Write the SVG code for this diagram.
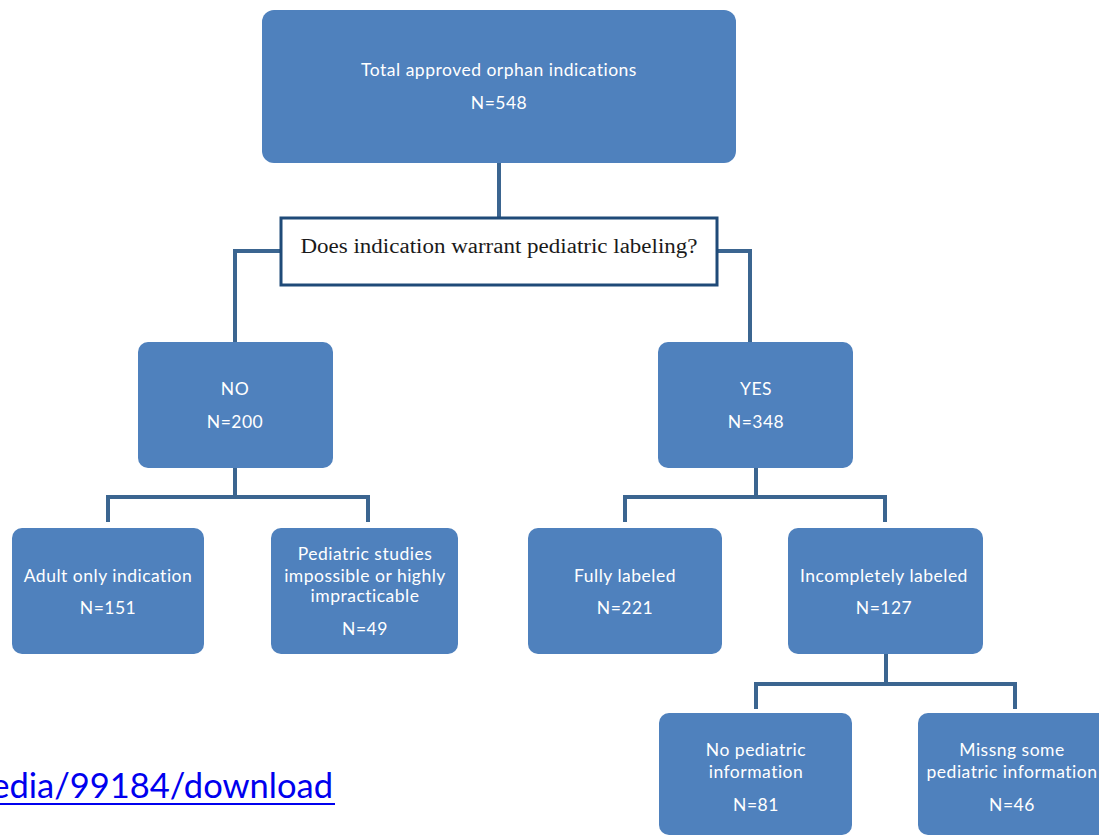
<svg xmlns="http://www.w3.org/2000/svg" width="1099" height="838" viewBox="0 0 1099 838">
<style>
.box{fill:#4f81bd}
.t{font-family:Lato,"Open Sans","Liberation Sans",sans-serif;font-size:17.5px;letter-spacing:0.5px;fill:#ffffff;text-anchor:middle}
.c{fill:none;stroke:#3b6590;stroke-width:4}
.q{font-family:"Liberation Serif","Times New Roman",serif;font-size:20px;fill:#1a1a1a;text-anchor:middle}
.link{font-family:Lato,"Open Sans",sans-serif;font-size:34.5px;fill:#0000ee}
</style>
<rect width="1099" height="838" fill="#ffffff"/>
<g id="connectors">
<path class="c" d="M499,163 V218"/>
<path class="c" d="M281,251 H235 V342"/>
<path class="c" d="M717,251 H750 V342"/>
<path class="c" d="M235,468 V497"/>
<path class="c" d="M108,522 V497 H368 V522"/>
<path class="c" d="M756,468 V497"/>
<path class="c" d="M625,522 V497 H885 V522"/>
<path class="c" d="M886,654 V684"/>
<path class="c" d="M756,709 V684 H1015 V709"/>
</g>
<g id="total">
<rect class="box" x="262" y="10" width="474" height="153" rx="12"/>
<text class="t" x="499" y="76">Total approved orphan indications</text>
<text class="t" x="499" y="109">N=548</text>
</g>
<g id="question">
<rect x="281" y="218" width="436" height="67" fill="#ffffff" stroke="#1f4a78" stroke-width="3"/>
<text class="q" x="499" y="253" textLength="397" lengthAdjust="spacingAndGlyphs">Does indication warrant pediatric labeling?</text>
</g>
<g id="no">
<rect class="box" x="138" y="342" width="195" height="126" rx="10"/>
<text class="t" x="235" y="395">NO</text>
<text class="t" x="235" y="428">N=200</text>
</g>
<g id="yes">
<rect class="box" x="658" y="342" width="195" height="126" rx="10"/>
<text class="t" x="756" y="395">YES</text>
<text class="t" x="756" y="428">N=348</text>
</g>
<g id="adult">
<rect class="box" x="12" y="528" width="192" height="126" rx="10"/>
<text class="t" x="108" y="582">Adult only indication</text>
<text class="t" x="108" y="614">N=151</text>
</g>
<g id="impossible">
<rect class="box" x="271" y="528" width="187" height="126" rx="10"/>
<text class="t" x="365" y="560">Pediatric studies</text>
<text class="t" x="365" y="582">impossible or highly</text>
<text class="t" x="365" y="602">impracticable</text>
<text class="t" x="365" y="635">N=49</text>
</g>
<g id="fully">
<rect class="box" x="528" y="528" width="194" height="126" rx="10"/>
<text class="t" x="625" y="582">Fully labeled</text>
<text class="t" x="625" y="614">N=221</text>
</g>
<g id="incomplete">
<rect class="box" x="788" y="528" width="195" height="126" rx="10"/>
<text class="t" x="884" y="582">Incompletely labeled</text>
<text class="t" x="884" y="614">N=127</text>
</g>
<g id="nopediatric">
<rect class="box" x="659" y="713" width="193" height="122" rx="10"/>
<text class="t" x="756" y="756">No pediatric</text>
<text class="t" x="756" y="778">information</text>
<text class="t" x="756" y="811">N=81</text>
</g>
<g id="missing">
<rect class="box" x="918" y="713" width="200" height="122" rx="10"/>
<text class="t" x="1012" y="756">Missng some</text>
<text class="t" x="1012" y="778">pediatric information</text>
<text class="t" x="1012" y="811">N=46</text>
</g>
<g id="link">
<text class="link" x="333" y="798" text-anchor="end">edia/99184/download</text>
<rect x="0" y="803" width="335" height="2" fill="#0000ee"/>
</g>
</svg>
